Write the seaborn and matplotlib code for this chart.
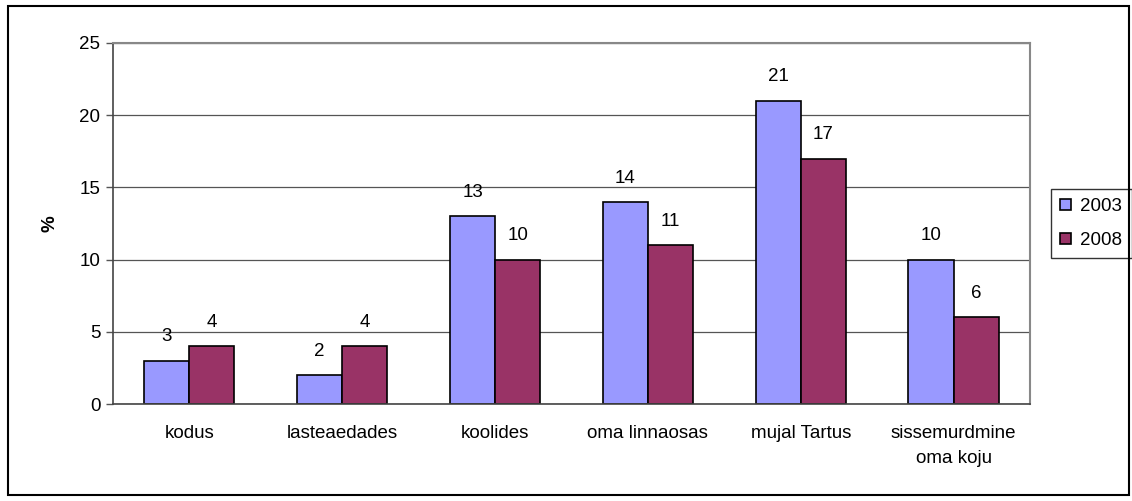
import matplotlib
matplotlib.use("Agg")
import matplotlib.pyplot as plt
from matplotlib.patches import Rectangle
from matplotlib.ticker import FixedLocator
import pandas as pd
import seaborn as sns

categories = ["kodus", "lasteaedades", "koolides", "oma linnaosas",
              "mujal Tartus", "sissemurdmine\noma koju"]
years = ["2003", "2008"]
values_2003 = [3, 2, 13, 14, 21, 10]
values_2008 = [4, 4, 10, 11, 17, 6]
y_ticks = [0, 5, 10, 15, 20, 25]

df = pd.DataFrame({
    "category": categories * 2,
    "year": [years[0]] * len(categories) + [years[1]] * len(categories),
    "value": values_2003 + values_2008,
})

sns.set_style("white")
plt.rcParams["font.family"] = ["Liberation Sans", "DejaVu Sans"]
plt.rcParams["text.color"] = "black"
plt.rcParams["axes.labelcolor"] = "black"

FS = 13.5

fig = plt.figure(figsize=(11.32, 5.01), dpi=100)
ax = fig.add_axes([0.0998, 0.1936, 0.8101, 0.7206])

palette = {"2003": "#9999FF", "2008": "#993366"}
sns.barplot(data=df, x="category", y="value", hue="year", order=categories,
            hue_order=years, palette=palette, width=0.59, saturation=1,
            edgecolor="black", linewidth=1.2, ax=ax, legend=True)

for container in ax.containers:
    ax.bar_label(container, fmt="%d", padding=11, fontsize=FS, color="black")

ax.set_ylim(0, 25)
ax.set_xlim(-0.5, len(categories) - 0.5)
ax.set_yticks(y_ticks)
ax.yaxis.grid(True, color="#555555", linewidth=0.9)
ax.set_axisbelow(True)

ax.set_xticks(range(len(categories)))
ax.set_xticklabels(categories, linespacing=1.6)
ax.xaxis.set_minor_locator(FixedLocator([i - 0.5 for i in range(len(categories) + 1)]))
ax.tick_params(axis="x", which="major", length=0, pad=15, labelsize=FS,
               labelcolor="black")
ax.tick_params(axis="x", which="minor", length=5, color="#555555", width=1)
ax.tick_params(axis="y", length=5, color="#555555", width=1, labelsize=FS, pad=4,
               left=True, labelcolor="black")

ax.set_xlabel("")
ax.set_ylabel("%", fontsize=FS, fontweight="bold")
ax.yaxis.set_label_coords(-0.059, 0.5)

for side in ["top", "right"]:
    ax.spines[side].set_color("#888888")
    ax.spines[side].set_linewidth(1.5)
for side in ["left", "bottom"]:
    ax.spines[side].set_color("#444444")
    ax.spines[side].set_linewidth(1.2)

leg = ax.legend(loc="center left", bbox_to_anchor=(1.023, 0.5), frameon=True,
                fancybox=False, edgecolor="black", fontsize=FS,
                handlelength=0.55, handleheight=0.55, handletextpad=0.5,
                borderpad=0.5, labelspacing=0.9, borderaxespad=0)
leg.get_frame().set_linewidth(1)

fig.patches.append(Rectangle((8 / 1132, 6 / 501), 1121 / 1132, 489 / 501,
                             transform=fig.transFigure, fill=False,
                             edgecolor="black", linewidth=1.5))

fig.savefig("out.png", dpi=100)
plt.close(fig)
